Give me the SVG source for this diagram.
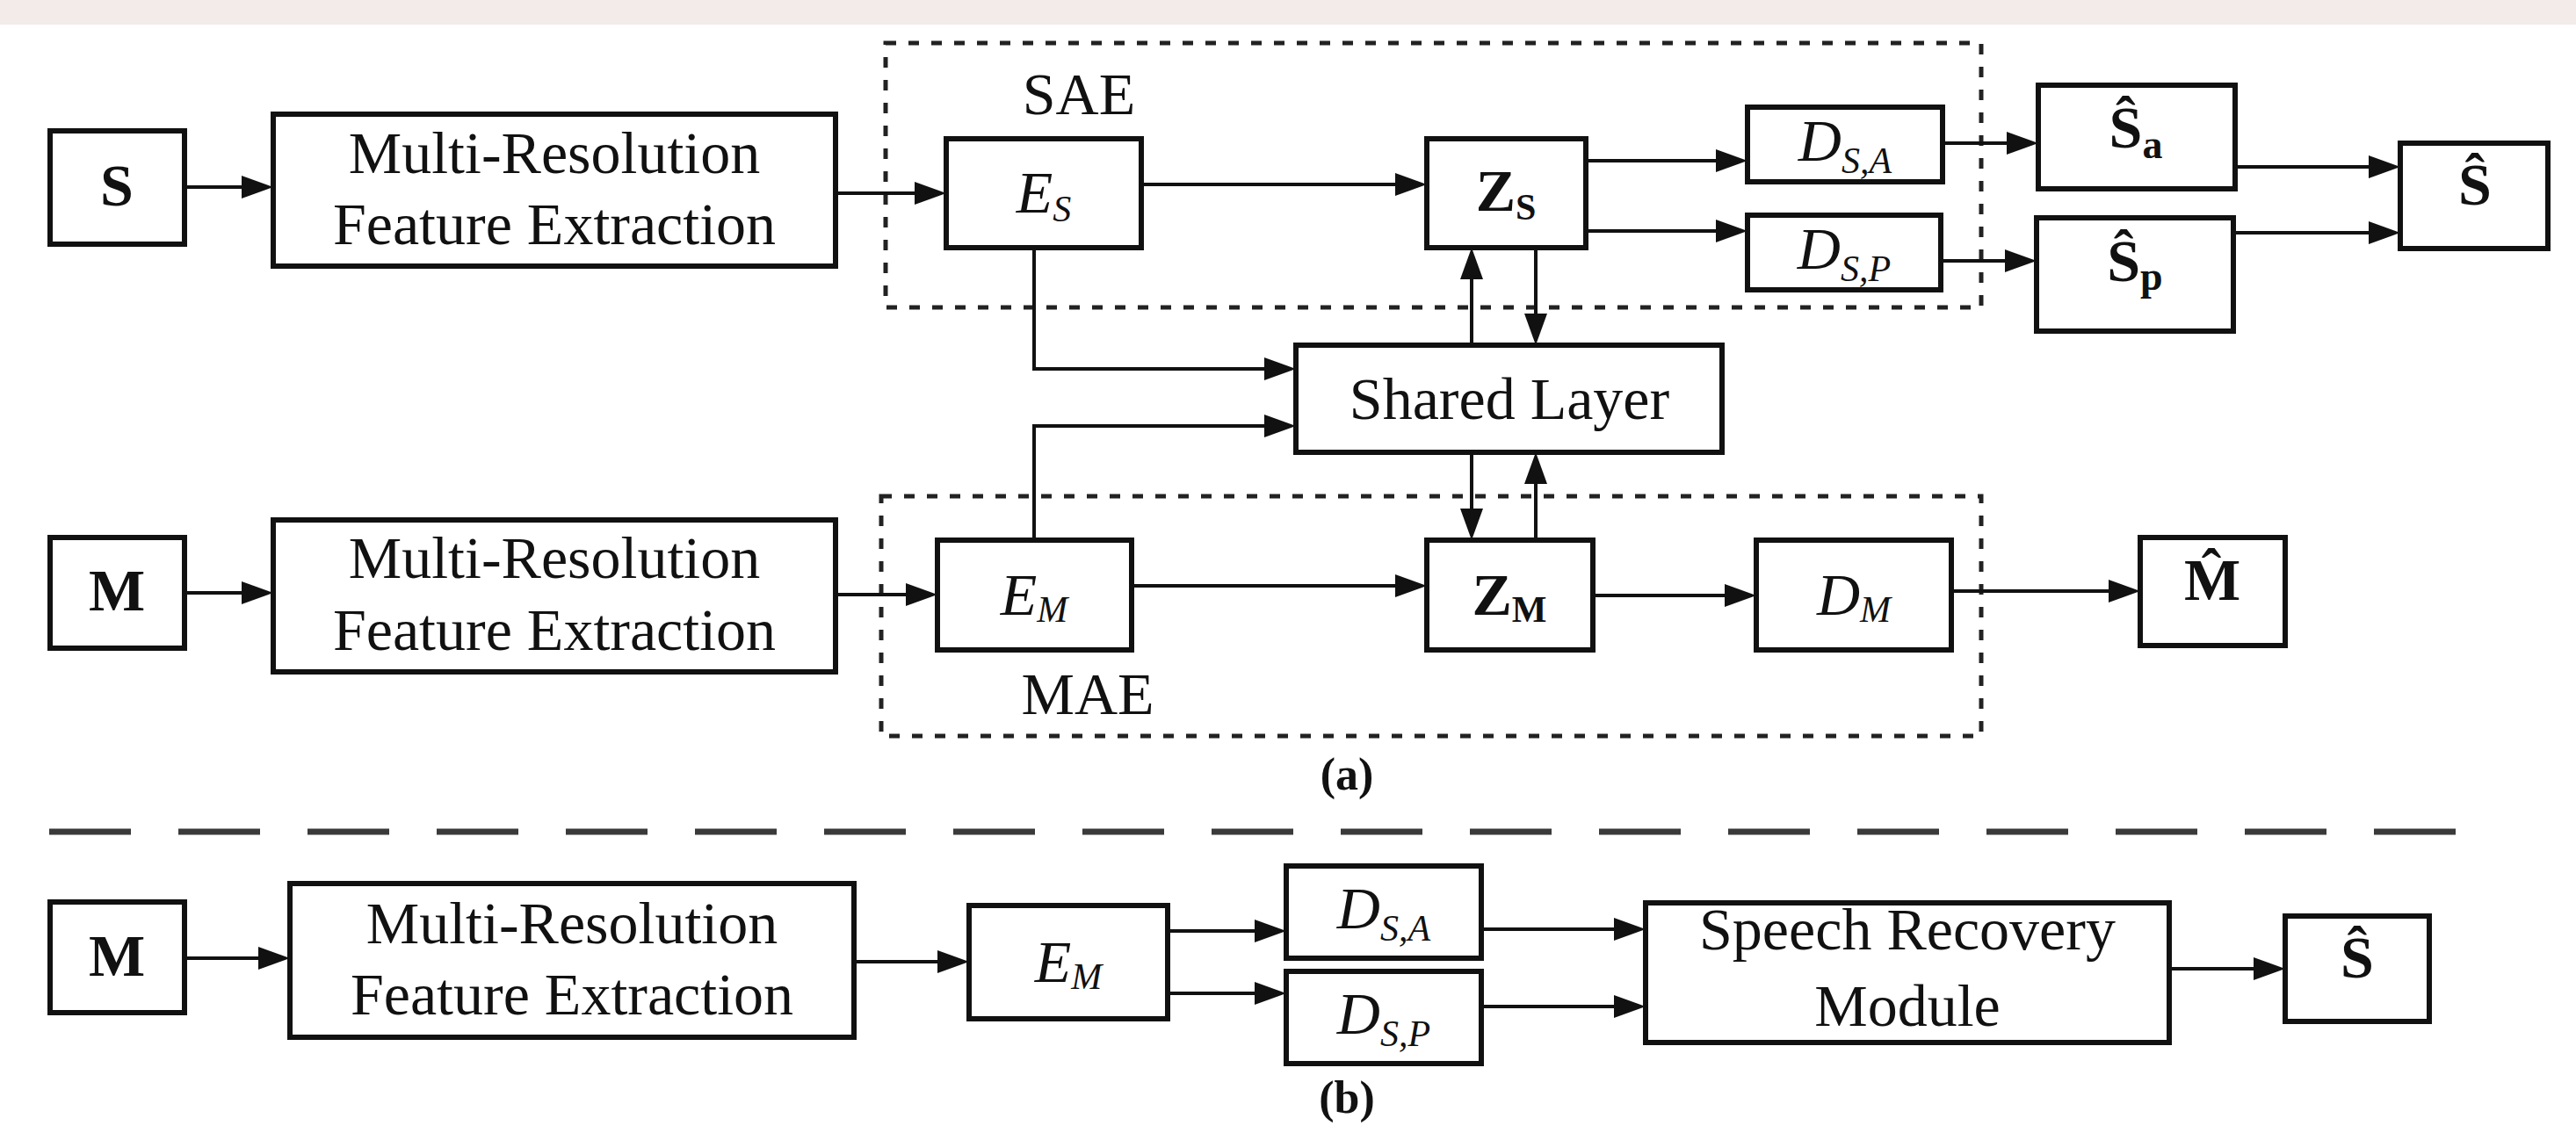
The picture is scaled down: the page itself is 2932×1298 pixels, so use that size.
<svg xmlns="http://www.w3.org/2000/svg" width="2932" height="1298" viewBox="0 0 2932 1298">
<defs>
<marker id="ah" viewBox="0 0 36 26" refX="30" refY="13" markerWidth="36" markerHeight="26" markerUnits="userSpaceOnUse" orient="auto">
<path d="M0,0 L36,13 L0,26 z" fill="#111"/>
</marker>
<style>
.box{fill:#fff;stroke:#111;stroke-width:6}
.grp{fill:none;stroke:#222;stroke-width:5;stroke-dasharray:12 14}
.sep{fill:none;stroke:#3a3a3a;stroke-width:7;stroke-dasharray:93 54}
.c{fill:none;stroke:#111;stroke-width:4;marker-end:url(#ah)}
.t{font-family:"Liberation Serif","Times New Roman",serif;font-size:68px;fill:#111;text-anchor:middle}
.b{font-weight:bold}
.i{font-style:italic}
.sub{font-size:42px}
.sub2{font-size:46px}
.cap{font-family:"Liberation Serif","Times New Roman",serif;font-size:52px;font-weight:bold;fill:#111;text-anchor:middle}
</style>
</defs>
<rect x="0" y="0" width="2932" height="1298" fill="#fff"/>
<rect x="0" y="0" width="2932" height="28" fill="#f3ebe9"/>

<g id="groups">
<rect id="sae" class="grp" x="1008" y="49" width="1247" height="301"/>
<text class="t" x="1228" y="130">SAE</text>
<rect id="mae" class="grp" x="1003" y="565" width="1252" height="273"/>
<text class="t" x="1238" y="813">MAE</text>
<line class="sep" x1="56" y1="947" x2="2795" y2="947"/>
<text class="cap" x="1533" y="899">(a)</text>
<text class="cap" x="1533" y="1267">(b)</text>
</g>

<g id="connectors">
<path class="c" d="M210,213 H305"/>
<path class="c" d="M951,220 H1071"/>
<path class="c" d="M1299,210 H1618"/>
<path class="c" d="M1805,183 H1983"/>
<path class="c" d="M1805,263 H1983"/>
<path class="c" d="M2211,163 H2314"/>
<path class="c" d="M2209,297 H2312"/>
<path class="c" d="M2544,190 H2726"/>
<path class="c" d="M2542,265 H2726"/>
<path class="c" d="M1177,282 V420 H1469"/>
<path class="c" d="M1177,615 V485 H1469"/>
<path class="c" d="M1675,393 V288"/>
<path class="c" d="M1748,282 V387"/>
<path class="c" d="M1675,515 V609"/>
<path class="c" d="M1748,615 V521"/>
<path class="c" d="M210,675 H305"/>
<path class="c" d="M951,677 H1061"/>
<path class="c" d="M1288,667 H1618"/>
<path class="c" d="M1813,678 H1993"/>
<path class="c" d="M2221,673 H2430"/>
<path class="c" d="M210,1091 H324"/>
<path class="c" d="M972,1095 H1097"/>
<path class="c" d="M1329,1060 H1458"/>
<path class="c" d="M1329,1131 H1458"/>
<path class="c" d="M1686,1058 H1867"/>
<path class="c" d="M1686,1146 H1867"/>
<path class="c" d="M2469,1103 H2595"/>
</g>

<g id="node-s">
<rect class="box" x="57" y="149" width="153" height="129"/>
<text class="t b" x="133" y="234">S</text>
</g>
<g id="node-mrfe1">
<rect class="box" x="311" y="130" width="640" height="173"/>
<text class="t" x="631" y="197">Multi-Resolution</text>
<text class="t" x="631" y="278">Feature Extraction</text>
</g>
<g id="node-es">
<rect class="box" x="1077" y="158" width="222" height="124"/>
<text class="t i" x="1188" y="242">E<tspan class="sub" dy="10">S</tspan></text>
</g>
<g id="node-zs">
<rect class="box" x="1624" y="158" width="181" height="124"/>
<text class="t b" x="1714" y="240">Z<tspan class="sub" dy="10">S</tspan></text>
</g>
<g id="node-dsa">
<rect class="box" x="1989" y="122" width="222" height="85"/>
<text class="t i" x="2100" y="183">D<tspan class="sub" dy="14">S,A</tspan></text>
</g>
<g id="node-dsp">
<rect class="box" x="1989" y="245" width="220" height="85"/>
<text class="t i" x="2099" y="306">D<tspan class="sub" dy="14">S,P</tspan></text>
</g>
<g id="node-sa">
<rect class="box" x="2320" y="97" width="224" height="118"/>
<text class="t b" x="2431" y="168">Ŝ<tspan class="sub2" dy="12">a</tspan></text>
</g>
<g id="node-sp">
<rect class="box" x="2318" y="248" width="224" height="129"/>
<text class="t b" x="2430" y="320">Ŝ<tspan class="sub2" dy="10">p</tspan></text>
</g>
<g id="node-shat">
<rect class="box" x="2732" y="163" width="168" height="120"/>
<text class="t b" x="2817" y="233">Ŝ</text>
</g>
<g id="node-shared">
<rect class="box" x="1475" y="393" width="485" height="122"/>
<text class="t" x="1718" y="477">Shared Layer</text>
</g>
<g id="node-m">
<rect class="box" x="57" y="612" width="153" height="126"/>
<text class="t b" x="133" y="695">M</text>
</g>
<g id="node-mrfe2">
<rect class="box" x="311" y="592" width="640" height="173"/>
<text class="t" x="631" y="658">Multi-Resolution</text>
<text class="t" x="631" y="740">Feature Extraction</text>
</g>
<g id="node-em">
<rect class="box" x="1067" y="615" width="221" height="125"/>
<text class="t i" x="1177" y="700">E<tspan class="sub" dy="8">M</tspan></text>
</g>
<g id="node-zm">
<rect class="box" x="1624" y="615" width="189" height="125"/>
<text class="t b" x="1718" y="700">Z<tspan class="sub" dy="8">M</tspan></text>
</g>
<g id="node-dm">
<rect class="box" x="1999" y="615" width="222" height="125"/>
<text class="t i" x="2110" y="700">D<tspan class="sub" dy="8">M</tspan></text>
</g>
<g id="node-mhat">
<rect class="box" x="2436" y="612" width="165" height="123"/>
<text class="t b" x="2518" y="683">M&#x302;</text>
</g>
<g id="node-m-b">
<rect class="box" x="57" y="1027" width="153" height="126"/>
<text class="t b" x="133" y="1111">M</text>
</g>
<g id="node-mrfe3">
<rect class="box" x="330" y="1006" width="642" height="175"/>
<text class="t" x="651" y="1074">Multi-Resolution</text>
<text class="t" x="651" y="1155">Feature Extraction</text>
</g>
<g id="node-em-b">
<rect class="box" x="1103" y="1031" width="226" height="129"/>
<text class="t i" x="1216" y="1118">E<tspan class="sub" dy="8">M</tspan></text>
</g>
<g id="node-dsa-b">
<rect class="box" x="1464" y="986" width="222" height="105"/>
<text class="t i" x="1575" y="1057">D<tspan class="sub" dy="14">S,A</tspan></text>
</g>
<g id="node-dsp-b">
<rect class="box" x="1464" y="1106" width="222" height="105"/>
<text class="t i" x="1575" y="1177">D<tspan class="sub" dy="14">S,P</tspan></text>
</g>
<g id="node-srm">
<rect class="box" x="1873" y="1028" width="596" height="159"/>
<text class="t" x="2171" y="1081">Speech Recovery</text>
<text class="t" x="2171" y="1168">Module</text>
</g>
<g id="node-shat-b">
<rect class="box" x="2601" y="1043" width="164" height="120"/>
<text class="t b" x="2683" y="1113">Ŝ</text>
</g>
</svg>
